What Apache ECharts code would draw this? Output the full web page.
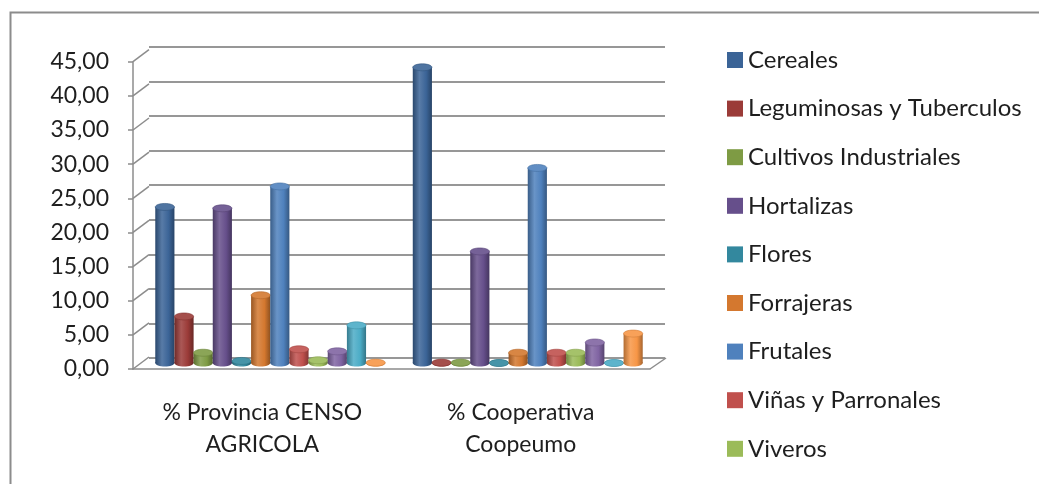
<!DOCTYPE html>
<html>
<head>
<meta charset="utf-8">
<script src="https://cdn.jsdelivr.net/npm/echarts@6/dist/echarts.min.js"></script>
<style>
  html, body { margin: 0; padding: 0; background: #fff; }
  #chart { width: 1039px; height: 484px; }
</style>
</head>
<body>
<div id="chart"></div>
<script>
// datos (porcentajes)
var categories = ['% Provincia CENSO\nAGRICOLA', '% Cooperativa\nCoopeumo'];
var seriesNames = [
  'Cereales', 'Leguminosas y Tuberculos', 'Cultivos Industriales', 'Hortalizas',
  'Flores', 'Forrajeras', 'Frutales', 'Viñas y Parronales', 'Viveros',
  'Serie 10', 'Serie 11', 'Serie 12'
];
var legendNames = seriesNames.slice(0, 9);
var seriesColors = [
  '#3b6497', '#9b3b38', '#7e9b44', '#664f8b', '#33889e', '#d4782f',
  '#4f81bd', '#c0504d', '#9bbb59', '#8064a2', '#4bacc6', '#f79646'
];
var provinciaValues  = [22.8, 6.8, 1.5, 22.6, 0.3, 9.9, 25.8, 2.0, 0.4, 1.7, 5.5, 0.05];
var cooperativaValues = [43.2, 0.05, 0.05, 16.3, 0, 1.5, 28.5, 1.5, 1.5, 3.0, 0, 4.3];
var yMin = 0, yMax = 45, yInterval = 5;
var yTicks = [0, 5, 10, 15, 20, 25, 30, 35, 40, 45];

var FONT = 'Lato';
var TXT = '#1e1e1e';
var GRAY = '#8c8c8c';

function mix(hex, t) {
  // t > 0 aclara hacia blanco, t < 0 oscurece hacia negro
  var r = parseInt(hex.substr(1, 2), 16), g = parseInt(hex.substr(3, 2), 16), b = parseInt(hex.substr(5, 2), 16);
  var f = function (c) { return Math.round(t >= 0 ? c + (255 - c) * t : c * (1 + t)); };
  return 'rgb(' + f(r) + ',' + f(g) + ',' + f(b) + ')';
}

function cylinder(idx) {
  var c = seriesColors[idx];
  return function (params, api) {
    var cat = api.value(0), val = api.value(1);
    var base = api.coord([cat, 0]);
    var top = api.coord([cat, val]);
    var band = api.size([1, 0])[0];
    var groupW = band * 0.893;
    var w = groupW / 12;
    var x = base[0] - groupW / 2 + idx * w;
    var ry = 3.5;
    var bodyFill = new echarts.graphic.LinearGradient(0, 0, 1, 0, [
      { offset: 0, color: mix(c, -0.28) },
      { offset: 0.35, color: mix(c, 0.15) },
      { offset: 0.7, color: c },
      { offset: 1, color: mix(c, -0.32) }
    ]);
    return {
      type: 'group',
      children: [
        { type: 'ellipse', shape: { cx: x + w / 2, cy: base[1], rx: w / 2, ry: ry }, style: { fill: bodyFill } },
        { type: 'rect', shape: { x: x, y: top[1], width: w, height: Math.max(0, base[1] - top[1]) }, style: { fill: bodyFill } },
        { type: 'ellipse', shape: { cx: x + w / 2, cy: top[1], rx: w / 2, ry: ry }, style: { fill: mix(c, 0.1), stroke: mix(c, -0.15), lineWidth: 0.6 } }
      ]
    };
  };
}

var series = [];
for (var i = 0; i < seriesNames.length; i++) {
  series.push({
    name: seriesNames[i],
    type: 'custom',
    xAxisIndex: 1,
    yAxisIndex: 1,
    renderItem: cylinder(i),
    itemStyle: { color: seriesColors[i] },
    encode: { x: 0, y: 1 },
    data: [[0, provinciaValues[i]], [1, cooperativaValues[i]]],
    z: 5,
    silent: true
  });
}

// lineas diagonales del muro lateral y el piso
series.push({
  type: 'custom',
  xAxisIndex: 0,
  yAxisIndex: 0,
  encode: { x: 0, y: 1 },
  data: yTicks.map(function (v) { return [0, v]; }),
  renderItem: function (params, api) {
    var p = api.coord([0, api.value(1)]);
    var cs = params.coordSys;
    var kids = [{
      type: 'line',
      shape: { x1: cs.x, y1: p[1], x2: cs.x + 16, y2: p[1] - 12 },
      style: { stroke: GRAY, lineWidth: 1.5 }
    }];
    if (api.value(1) === 0) {
      kids.push({
        type: 'line',
        shape: { x1: cs.x + cs.width, y1: p[1], x2: cs.x + cs.width + 16, y2: p[1] - 11 },
        style: { stroke: GRAY, lineWidth: 1.5 }
      });
    }
    return { type: 'group', children: kids };
  },
  z: 3,
  silent: true
});

var chart = echarts.init(document.getElementById('chart'), null, { renderer: 'canvas' });
chart.setOption({
  backgroundColor: '#fff',
  animation: false,
  textStyle: { fontFamily: FONT },
  graphic: [{
    type: 'rect',
    left: 8, top: 10,
    shape: { width: 1100, height: 520 },
    style: { fill: 'none', stroke: GRAY, lineWidth: 2 },
    silent: true
  }],
  legend: {
    data: legendNames,
    orient: 'vertical',
    left: 722,
    top: 43,
    icon: 'rect',
    itemWidth: 16,
    itemHeight: 16,
    itemGap: 24.6,
    textStyle: { color: TXT, fontSize: 24, fontFamily: FONT, lineHeight: 24 }
  },
  grid: [
    { left: 133, top: 61.7, width: 517, height: 307.3 },   // frente (ejes)
    { left: 141.5, top: 55, width: 515, height: 308 },     // barras
    { left: 149, top: 47, width: 516, height: 311 }        // muro del fondo
  ],
  xAxis: [
    {
      type: 'category', gridIndex: 0, data: categories,
      axisLine: { lineStyle: { color: GRAY, width: 1.5 } },
      axisTick: { length: 6, lineStyle: { color: GRAY, width: 1.5 } },
      axisLabel: { interval: 0, color: TXT, fontSize: 23, fontFamily: FONT, lineHeight: 32, margin: 28 },
      splitLine: { show: false }
    },
    { type: 'category', gridIndex: 1, data: categories, show: false },
    { type: 'category', gridIndex: 2, data: categories, show: false }
  ],
  yAxis: [
    {
      type: 'value', gridIndex: 0, min: yMin, max: yMax, interval: yInterval,
      axisLine: { show: true, lineStyle: { color: GRAY, width: 1.5 } },
      axisTick: { show: true, length: 5, lineStyle: { color: GRAY, width: 1.5 } },
      axisLabel: {
        color: TXT, fontSize: 23, fontFamily: FONT, margin: 24,
        formatter: function (v) { return v.toFixed(2).replace('.', ','); }
      },
      splitLine: { show: false }
    },
    { type: 'value', gridIndex: 1, min: yMin, max: yMax, interval: yInterval, show: false, splitLine: { show: false } },
    {
      type: 'value', gridIndex: 2, min: yMin, max: yMax, interval: yInterval,
      axisLine: { show: false }, axisTick: { show: false }, axisLabel: { show: false },
      splitLine: { show: true, lineStyle: { color: '#979797', width: 2 } }
    }
  ],
  series: series
});
</script>
</body>
</html>
